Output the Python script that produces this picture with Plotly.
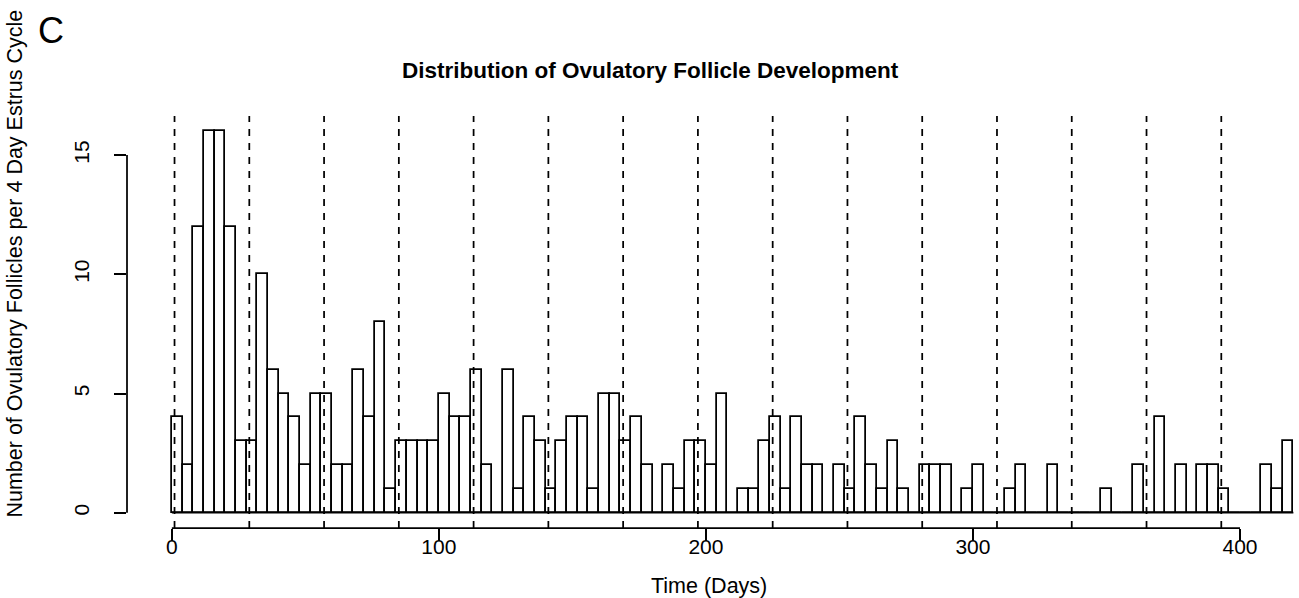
import plotly.graph_objects as go

# ---- data ----
bin_width = 4  # days per estrus-cycle bin
counts = [
    4, 2, 12, 16, 16, 12, 3, 3, 10, 6,
    5, 4, 2, 5, 5, 2, 2, 6, 4, 8,
    1, 3, 3, 3, 3, 5, 4, 4, 6, 2,
    0, 6, 1, 4, 3, 1, 3, 4, 4, 1,
    5, 5, 3, 4, 2, 0, 2, 1, 3, 3,
    2, 5, 0, 1, 1, 3, 4, 1, 4, 2,
    2, 0, 2, 1, 4, 2, 1, 3, 1, 0,
    2, 2, 2, 0, 1, 2, 0, 0, 1, 2,
    0, 0, 2, 0, 0, 0, 0, 1, 0, 0,
    2, 0, 4, 0, 2, 0, 2, 2, 1, 0,
    0, 0, 2, 1, 3,
]
bin_starts = [i * bin_width for i in range(len(counts))]
cycle_lines = [1, 29, 57, 85, 113, 141, 169, 197, 225, 253, 281, 309, 337, 365, 393]
x_ticks = [0, 100, 200, 300, 400]
y_ticks = [0, 5, 10, 15]

title = "Distribution of Ovulatory Follicle Development"
x_label = "Time (Days)"
y_label = "Number of Ovulatory Follicles per 4 Day Estrus Cycle"
panel = "C"

# ---- layout geometry ----
W, H = 1299, 598
L, T, B = 126.8, 115.5, 70.0
plot_w = W - L
plot_h = H - T - B
x_lo = bin_starts[0] - 0.04 * (bin_starts[-1] + bin_width - bin_starts[0])
px_per_day = 1068.3 / 400
x_hi = x_lo + plot_w / px_per_day
y_top = max(counts) * 1.04
y_lo = -max(counts) * 0.04


def px_to_paper_x(px):
    return (px - L) / plot_w


def px_to_paper_y(py):
    return (H - B - py) / plot_h


FONT = "Arial, 'Liberation Sans', sans-serif"
LW = 1.75

fig = go.Figure()
fig.add_trace(go.Bar(
    x=bin_starts, y=counts, width=bin_width, offset=0,
    marker=dict(color="white", line=dict(color="black", width=LW)),
    hoverinfo="x+y", showlegend=False,
))

shapes = []
# baseline under all bins (zero-count bins are flat rectangles in the original)
shapes.append(dict(type="line", xref="x", yref="y", x0=bin_starts[0],
                   x1=bin_starts[-1] + bin_width, y0=0, y1=0,
                   line=dict(color="black", width=LW), layer="above"))
for v in cycle_lines:
    shapes.append(dict(type="line", xref="x", yref="paper", x0=v, x1=v, y0=0, y1=1,
                       line=dict(color="black", width=LW, dash="7px,7px"), layer="above"))
# R-style axis lines spanning first to last tick
shapes.append(dict(type="line", xref="x", yref="paper", x0=x_ticks[0], x1=x_ticks[-1],
                   y0=0, y1=0, line=dict(color="black", width=LW)))
shapes.append(dict(type="line", xref="paper", yref="y", x0=0, x1=0,
                   y0=y_ticks[0], y1=y_ticks[-1], line=dict(color="black", width=LW)))

annotations = [
    dict(text="<b>" + title + "</b>", xref="paper", yref="paper",
         x=px_to_paper_x(650), y=px_to_paper_y(70), xanchor="center", yanchor="middle",
         showarrow=False, font=dict(family=FONT, size=22.5, color="black")),
    dict(text=x_label, xref="paper", yref="paper",
         x=px_to_paper_x(708.5), y=px_to_paper_y(586), xanchor="center", yanchor="middle",
         showarrow=False, font=dict(family=FONT, size=21.5, color="black")),
    dict(text=y_label, xref="paper", yref="paper", textangle=-90,
         x=px_to_paper_x(15), y=px_to_paper_y(263), xanchor="center", yanchor="middle",
         showarrow=False, font=dict(family=FONT, size=21.5, color="black")),
    dict(text=panel, xref="paper", yref="paper",
         x=px_to_paper_x(51), y=px_to_paper_y(30), xanchor="center", yanchor="middle",
         showarrow=False, font=dict(family=FONT, size=36, color="black")),
]

fig.update_layout(
    width=W, height=H,
    margin=dict(l=L, r=0, t=T, b=B, pad=0, autoexpand=False),
    paper_bgcolor="white", plot_bgcolor="white",
    font=dict(family=FONT, size=21, color="black"),
    bargap=0,
    shapes=shapes, annotations=annotations,
    xaxis=dict(range=[x_lo, x_hi], tickmode="array", tickvals=x_ticks,
               ticktext=[str(v) for v in x_ticks], ticks="outside", ticklen=12,
               tickwidth=LW, tickcolor="black", showgrid=False, zeroline=False,
               showline=False, automargin=False,
               tickfont=dict(family=FONT, size=21, color="black"),
               ticklabelstandoff=-12),
    yaxis=dict(range=[y_lo, y_top], tickmode="array", tickvals=y_ticks,
               ticktext=[str(v) for v in y_ticks], ticks="outside", ticklen=12,
               tickwidth=LW, tickcolor="black", showgrid=False, zeroline=False,
               showline=False, tickangle=-90, automargin=False,
               tickfont=dict(family=FONT, size=21, color="black"),
               ticklabelstandoff=17),
)

fig.write_html(
    "out.html",
    config={"displayModeBar": False},
    post_script="document.body.style.margin='0';document.body.style.overflow='hidden';",
)
